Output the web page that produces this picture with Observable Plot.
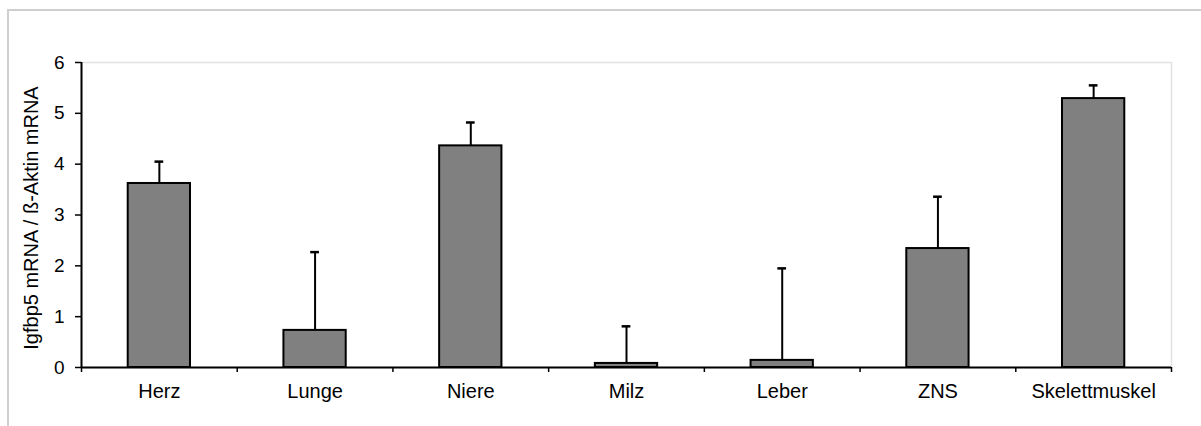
<!DOCTYPE html>
<html>
<head>
<meta charset="utf-8">
<script src="https://cdn.jsdelivr.net/npm/d3@7"></script>
<script src="https://cdn.jsdelivr.net/npm/@observablehq/plot@0.6"></script>
<style>
  html, body { margin: 0; padding: 0; background: #fff; }
  #wrap { position: relative; width: 1201px; height: 426px; overflow: hidden; }
  #outer { position: absolute; left: 7px; top: 9px; right: -10px; bottom: -10px;
           border-top: 2px solid #cfcfcf; border-left: 2px solid #cfcfcf; }
  #chart { position: absolute; left: 0; top: 0; }
</style>
</head>
<body>
<div id="wrap"><div id="outer"></div><div id="chart"></div></div>
<script>
const categories = ["Herz", "Lunge", "Niere", "Milz", "Leber", "ZNS", "Skelettmuskel"];
const means = [3.62, 0.73, 4.36, 0.08, 0.14, 2.34, 5.29];
const errors = [0.43, 1.54, 0.46, 0.73, 1.81, 1.02, 0.26];
const yTicks = [0, 1, 2, 3, 4, 5, 6];
const yLabel = "Igfbp5 mRNA / ß-Aktin mRNA";

const data = categories.map((c, i) => ({cat: c, i, mean: means[i], err: errors[i]}));

const chart = Plot.plot({
  width: 1201,
  height: 426,
  marginLeft: 81,
  marginRight: 30,
  marginTop: 62,
  marginBottom: 59,
  style: {fontFamily: "'Liberation Sans', Arial, sans-serif", fontSize: "18px", color: "#000", background: "transparent"},
  x: {domain: [0, categories.length], axis: null},
  y: {domain: [0, 6], axis: null},
  marks: [
    Plot.frame({stroke: "#e2e2e2", strokeWidth: 1.5}),
    Plot.axisY({ticks: yTicks, tickSize: 6, tickPadding: 11, tickFormat: d3.format("d"),
      fontSize: 19, strokeWidth: 1.5, label: null}),
    Plot.text([yLabel], {frameAnchor: "left", textAnchor: "middle", rotate: -90, dx: -50, dy: 3, fontSize: 20, fill: "#000", text: d => d}),
    Plot.axisX({ticks: d3.range(0, categories.length + 1), tickSize: 5, tickFormat: () => "", strokeWidth: 1.5, label: null}),
    Plot.axisX({ticks: d3.range(0, categories.length).map(i => i + 0.5), tickSize: 0, tickPadding: 16,
      tickFormat: v => categories[Math.floor(v)], fontSize: 20, label: null}),
    Plot.ruleX(data, {x: d => d.i + 0.5, y1: "mean", y2: d => d.mean + d.err, stroke: "#000", strokeWidth: 2}),
    Plot.ruleY(data, {y: d => d.mean + d.err, x1: d => d.i + 0.5 - 0.028, x2: d => d.i + 0.5 + 0.028, stroke: "#000", strokeWidth: 2.5}),
    Plot.rectY(data, {x1: d => d.i + 0.3, x2: d => d.i + 0.7, y1: 0, y2: "mean", fill: "#808080", stroke: "#000", strokeWidth: 2}),
    Plot.ruleX([0], {y1: 0, y2: 6, stroke: "#000", strokeWidth: 2}),
    Plot.ruleY([0], {stroke: "#000", strokeWidth: 2})
  ]
});
document.getElementById("chart").appendChild(chart);
</script>
</body>
</html>
